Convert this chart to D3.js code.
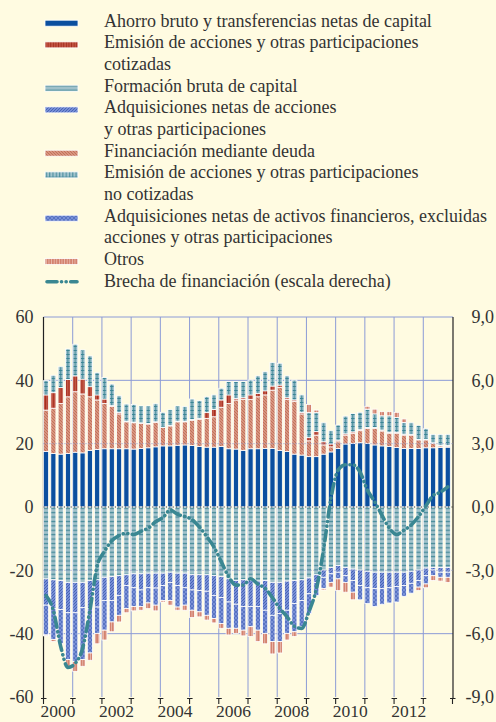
<!DOCTYPE html>
<html>
<head>
<meta charset="utf-8">
<script src="https://cdn.jsdelivr.net/npm/d3@7"></script>
<style>
  html, body { margin: 0; padding: 0; background: #fffbe1; }
  svg { display: block; }
</style>
</head>
<body>
<svg id="chart" width="496" height="722"></svg>
<script>
// ---- data (% of gross value added, quarterly, 2000 T1 – 2013 T4) ----
const years = [2000, 2001, 2002, 2003, 2004, 2005, 2006, 2007, 2008, 2009, 2010, 2011, 2012, 2013];
const quarterNames = ["T1", "T2", "T3", "T4"];
const yearLabels = [2000, 2002, 2004, 2006, 2008, 2010, 2012];
const leftTicks = [-60, -40, -20, 0, 20, 40, 60];
const rightTicks = [-9, -6, -3, 0, 3, 6, 9];

// sources (positive)
const ahorro = [17.5,16.9,16.7,16.9,17.3,17.1,17.9,18.2,18.4,18.4,18.4,18.4,18.3,18.5,18.7,19.0,
                19.3,19.3,19.5,19.6,19.4,19.1,18.9,18.9,19.1,18.4,18.3,17.9,18.4,18.4,18.5,18.5,
                17.9,17.5,16.7,16.4,15.9,15.9,16.7,17.4,18.5,19.9,20.1,20.3,20.1,19.6,19.3,19.1,
                18.8,18.5,18.5,18.5,18.7,18.7,18.8,18.9];
const deuda = [13.1,14.3,16.0,17.9,19.1,18.6,16.9,15.6,14.3,13.3,11.0,8.5,8.3,7.9,7.5,7.7,
               5.8,6.3,7.4,7.3,7.9,8.6,9.1,9.6,12.4,14.3,15.5,16.1,15.6,16.4,16.9,18.4,
               19.9,16.5,16.6,13.0,5.0,6.8,2.9,1.6,2.1,2.8,3.2,3.8,4.7,5.2,4.7,4.2,
               4.5,4.2,4.2,2.7,2.5,1.4,0.5,0.3];
const cotizadas = [4.8,4.9,5.0,5.5,5.0,4.7,3.2,1.6,1.4,0.3,0.4,0.2,0.2,0.2,0.2,0.2,
                   0.1,0.1,0.2,0.2,0.3,0.3,1.8,2.3,2.3,2.7,0.5,0.5,1.4,1.1,1.3,1.3,
                   0.7,0.5,0.5,0.5,1.0,1.1,1.0,0.9,0.5,0.4,0.4,0.3,0.3,0.3,0.3,0.3,
                   0.3,0.3,0.2,0.2,0.2,0.2,0.2,0.2];
const noCotizadas = [4.5,5.5,6.6,9.6,10.0,9.2,9.7,7.0,6.8,6.8,5.3,5.4,5.6,5.3,5.5,5.7,
                     4.7,5.0,4.8,4.6,6.5,5.6,5.0,4.6,3.7,4.2,5.3,5.1,4.7,5.5,6.0,7.4,
                     6.9,6.9,6.3,5.5,7.9,6.0,6.0,4.2,4.8,5.6,5.8,5.5,5.8,4.3,4.5,5.2,
                     4.7,3.7,3.7,4.4,3.3,2.6,3.4,3.5];
// uses (negative)
const formacion = [-22.7,-23.0,-23.2,-23.8,-23.8,-23.8,-23.2,-23.0,-22.2,-22.0,-21.7,-21.4,-21.1,-21.1,-20.9,-20.9,
                   -20.9,-20.6,-20.9,-20.9,-21.4,-21.4,-21.4,-21.7,-22.0,-22.7,-23.2,-23.0,-23.2,-23.4,-23.2,-23.8,
                   -23.8,-23.4,-23.2,-23.0,-22.4,-21.4,-19.9,-19.1,-18.5,-19.1,-19.6,-19.9,-20.3,-20.6,-20.6,-20.6,
                   -20.6,-20.6,-20.3,-19.9,-19.3,-19.1,-19.1,-19.1];
const adqAcciones = [-8.3,-9.1,-9.2,-9.6,-9.6,-8.0,-8.9,-8.6,-7.3,-7.5,-6.2,-3.4,-4.4,-5.1,-4.6,-4.7,
                     -3.9,-3.2,-3.9,-4.6,-4.8,-5.0,-5.2,-6.2,-6.6,-7.3,-7.5,-8.4,-8.2,-8.0,-9.4,-10.4,
                     -9.8,-9.2,-7.3,-6.5,-5.0,-2.4,-2.3,-2.0,-2.1,-2.6,-3.6,-4.9,-5.2,-5.2,-5.2,-4.9,
                     -4.5,-4.2,-3.8,-3.3,-2.4,-0.8,-1.5,-1.5];
const adqActivos = [-9.4,-9.7,-10.8,-14.8,-15.4,-16.4,-14.0,-8.3,-9.4,-6.8,-6.3,-7.3,-5.9,-5.2,-4.8,-5.4,
                    -4.7,-5.7,-6.8,-5.5,-6.4,-6.7,-7.6,-7.3,-8.2,-8.3,-7.6,-7.5,-6.4,-7.5,-7.3,-8.3,
                    -8.9,-7.3,-8.9,-8.3,-6.2,-4.1,-3.5,-2.7,-2.1,-2.1,-3.7,-4.5,-5.0,-5.6,-4.9,-4.8,
                    -4.9,-3.4,-3.1,-2.1,-2.6,-1.8,-1.6,-1.6];
// both signs
const otros = [-0.3,-0.7,-0.3,-2.1,-3.1,-2.1,-2.3,-3.3,-3.1,-3.1,-2.1,-1.3,-1.4,-1.2,-1.8,-1.8,
               -0.5,-1.5,-1.0,-1.6,-2.3,-1.6,-1.5,-1.4,-1.5,-2.1,-1.6,-1.8,-3.1,-3.6,-3.3,-3.9,
               -3.6,-2.1,-1.5,-0.5,2.6,0.8,-0.5,-1.5,-3.7,-3.1,-2.4,0,0.9,1.5,1.3,1.3,
               1.6,1.1,0,-1.1,-1.2,-1.5,-1.2,-1.6];
// financing gap, right scale
const brecha = [-4.2,-4.9,-6.6,-7.6,-7.4,-6.7,-4.9,-2.8,-2.1,-1.6,-1.35,-1.25,-1.3,-1.15,-1.0,-0.7,
                -0.5,-0.15,-0.35,-0.45,-0.6,-0.95,-1.4,-1.9,-2.6,-3.3,-3.7,-3.7,-3.4,-3.65,-3.85,-4.3,
                -4.8,-5.2,-5.65,-5.75,-4.95,-3.9,-2.0,0.4,1.75,2.0,2.0,1.65,0.8,0.25,-0.4,-1.0,
                -1.3,-1.1,-0.85,-0.45,0.05,0.55,0.7,0.95];

const periods = years.flatMap(y => quarterNames.map(q => `${y} ${q}`));

// ---- layout ----
const svg = d3.select("#chart");
const W = 496, H = 722;
const plotTop = 317, plotBottom = 697, plotLeft = 43.5, plotRight = 452.5;
const font = "'Liberation Serif', 'Times New Roman', serif";
const textColor = "#333";
const gridBlue = "#8c9bd6";

const x = d3.scaleBand().domain(periods).range([plotLeft, plotRight])
  .paddingInner(0.3).paddingOuter(0.15).align(0);
const xYear = d3.scaleLinear().domain([2000, 2014]).range([plotLeft, plotRight]);
const yL = d3.scaleLinear().domain([-60, 60]).range([plotBottom, plotTop]);
const yR = d3.scaleLinear().domain([-9, 9]).range([plotBottom, plotTop]);

const loc = d3.formatLocale({decimal: ",", thousands: ".", grouping: [3], currency: ["", " €"], minus: "-"});
const fmtL = loc.format("d");
const fmtR = loc.format(".1f");

svg.append("rect").attr("width", W).attr("height", H).attr("fill", "#fffbe1");

// ---- fill patterns ----
const defs = svg.append("defs");
const step = x.step(), bw = x.bandwidth(), x0 = x(periods[0]);

function pattern(id, w, h, base, px) {
  const p = defs.append("pattern").attr("id", id)
    .attr("patternUnits", "userSpaceOnUse").attr("width", w).attr("height", h)
    .attr("x", px == null ? 0 : px);
  p.append("rect").attr("width", w).attr("height", h).attr("fill", base);
  return p;
}
// Ahorro: solid
pattern("p-ahorro", 4, 4, "#0b4f9f");
// Emisión cotizadas: red with vertical stripes
let p = pattern("p-cotizadas", 2.6, 4, "#c65a48");
p.append("rect").attr("x", 0.8).attr("width", 1.1).attr("height", 4).attr("fill", "#a52e20");
// Formación bruta: light teal with horizontal stripes
p = pattern("p-formacion", 4, 4.4, "#a2c2cb");
p.append("rect").attr("y", 1.6).attr("width", 4).attr("height", 1.3).attr("fill", "#468b99");
// Adquisiciones de acciones: blue with diagonal hatch
p = pattern("p-adqAcciones", 3, 3, "#768ed5");
p.append("path").attr("d", "M-1,4 L4,-1 M-1,1 L1,-1 M2,4 L4,2").attr("stroke", "#3855ae").attr("stroke-width", 0.75);
// Financiación deuda: salmon with back-diagonal hatch
p = pattern("p-deuda", 3, 3, "#d7957f");
p.append("path").attr("d", "M-1,-1 L4,4 M-1,2 L1,4 M2,-1 L4,1").attr("stroke", "#ba604d").attr("stroke-width", 0.7);
// Emisión no cotizadas: light teal, ladder marks centred on each bar
p = pattern("p-noCotizadas", step, 4, "#a2c3cd", x0);
p.append("rect").attr("x", bw / 2 - 0.5).attr("width", 1).attr("height", 4).attr("fill", "#3a8595");
p.append("rect").attr("x", bw / 2 - 1.7).attr("y", 2).attr("width", 3.4).attr("height", 1).attr("fill", "#3a8595");
// Adquisiciones de activos financieros: blue cross-hatch
p = pattern("p-adqActivos", 4, 4, "#7a91d6");
p.append("path").attr("d", "M0,0 L4,4 M4,0 L0,4").attr("stroke", "#4563b8").attr("stroke-width", 0.65);
// Otros: salmon with thin white verticals
p = pattern("p-otros", 2.6, 4, "#d3826f");
p.append("rect").attr("x", 1.8).attr("width", 0.6).attr("height", 4).attr("fill", "#f4d2c8");
// legend swatch variant of the unlisted-shares fill (ticks spread along the swatch)
p = pattern("p-noCotizadasLeg", 3.3, 6, "#a2c3cd", 45);
p.append("rect").attr("x", 1).attr("width", 0.9).attr("height", 6).attr("fill", "#3a8595");
p.append("rect").attr("y", 2.7).attr("width", 3.3).attr("height", 0.9).attr("fill", "#3a8595");

// ---- gridlines and axis lines (behind bars) ----
const grid = svg.append("g");
[60, 40, -40].forEach(v => {
  grid.append("line").attr("x1", plotLeft).attr("x2", plotRight + 0.5)
    .attr("y1", yL(v)).attr("y2", yL(v)).attr("stroke", gridBlue).attr("stroke-width", 1);
});
d3.range(2001, 2014).forEach(yr => {
  grid.append("line").attr("x1", xYear(yr)).attr("x2", xYear(yr))
    .attr("y1", plotTop).attr("y2", plotBottom).attr("stroke", gridBlue).attr("stroke-width", 1);
});
[plotLeft, plotRight + 0.5].forEach(xx => {
  grid.append("line").attr("x1", xx).attr("x2", xx).attr("y1", plotTop).attr("y2", plotBottom + 1)
    .attr("stroke", "#222").attr("stroke-width", 1.2);
});

// ---- stacked bars ----
const rows = periods.map((per, i) => ({
  period: per, ahorro: ahorro[i], formacion: formacion[i], deuda: deuda[i],
  adqAcciones: adqAcciones[i], cotizadas: cotizadas[i], adqActivos: adqActivos[i],
  noCotizadas: noCotizadas[i], otros: otros[i]
}));
const keys = ["ahorro", "formacion", "deuda", "adqAcciones", "cotizadas", "adqActivos", "noCotizadas", "otros"];
const series = d3.stack().keys(keys).offset(d3.stackOffsetDiverging)(rows);

svg.append("g").selectAll("g").data(series).join("g")
  .attr("fill", s => `url(#p-${s.key})`)
  .selectAll("rect").data(s => s.filter(d => d[1] !== d[0])).join("rect")
  .attr("x", d => x(d.data.period))
  .attr("width", bw)
  .attr("y", d => yL(Math.max(d[0], d[1])))
  .attr("height", d => Math.abs(yL(d[0]) - yL(d[1])))
  .attr("stroke", "#ffffff").attr("stroke-width", 0.8);

// ---- dotted reference lines over bars ----
[20, -20].forEach(v => {
  svg.append("line").attr("x1", plotLeft).attr("x2", plotRight)
    .attr("y1", yL(v)).attr("y2", yL(v))
    .attr("stroke", "#8f98c8").attr("stroke-width", 1).attr("stroke-dasharray", "1,2");
});
svg.append("line").attr("x1", plotLeft).attr("x2", plotRight)
  .attr("y1", yL(0)).attr("y2", yL(0))
  .attr("stroke", "#222").attr("stroke-width", 1).attr("stroke-dasharray", "1,2.4");

// ---- financing gap line (right scale) ----
const gapDash = "10,4.5,0.1,4.5,0.1,4.5";
const gapColor = "#3a8792";
svg.append("path")
  .datum(brecha)
  .attr("fill", "none").attr("stroke", gapColor).attr("stroke-width", 3.6)
  .attr("stroke-linecap", "round").attr("stroke-linejoin", "round")
  .attr("stroke-dasharray", gapDash)
  .attr("d", d3.line()
    .x((d, i) => x(periods[i]) + bw / 2)
    .y(d => yR(d))
    .curve(d3.curveMonotoneX));

// ---- axes ----
svg.append("g").selectAll("text").data(leftTicks).join("text")
  .attr("x", 33.5).attr("y", d => yL(d)).attr("dy", "0.35em")
  .attr("text-anchor", "end").text(d => fmtL(d))
  .attr("font-family", font).attr("font-size", 18).attr("fill", textColor);

svg.append("g").selectAll("text").data(rightTicks).join("text")
  .attr("x", 494).attr("y", d => yR(d)).attr("dy", "0.35em")
  .attr("text-anchor", "end").text(d => fmtR(d))
  .attr("font-family", font).attr("font-size", 18).attr("fill", textColor);

// bottom year ticks
const gB = svg.append("g");
gB.selectAll("path").data(d3.range(2000, 2015)).join("path")
  .attr("d", yr => `M${xYear(yr) - 2.5},${plotBottom + 1.5}H${xYear(yr) + 3}M${xYear(yr)},${plotBottom + 1.5}V${plotBottom + 7}`)
  .attr("stroke", "#222").attr("stroke-width", 1.1).attr("fill", "none");
gB.selectAll("text").data(yearLabels).join("text")
  .attr("x", yr => xYear(yr + 0.5)).attr("y", 717)
  .attr("text-anchor", "middle").text(yr => yr)
  .attr("font-family", font).attr("font-size", 17.5).attr("fill", textColor);

// ---- legend ----
const legendItems = [
  { key: "ahorro", lines: ["Ahorro bruto y transferencias netas de capital"] },
  { key: "cotizadas", lines: ["Emisión de acciones y otras participaciones", "cotizadas"] },
  { key: "formacion", lines: ["Formación bruta de capital"] },
  { key: "adqAcciones", lines: ["Adquisiciones netas de acciones", "y otras participaciones"] },
  { key: "deuda", lines: ["Financiación mediante deuda"] },
  { key: "noCotizadas", lines: ["Emisión de acciones y otras participaciones", "no cotizadas"] },
  { key: "adqActivos", lines: ["Adquisiciones netas de activos financieros, excluidas", "acciones y otras participaciones"] },
  { key: "otros", lines: ["Otros"] },
  { key: "brecha", lines: ["Brecha de financiación (escala derecha)"] }
];
const lineH = 21.67;
let lineNo = 0;
const gLeg = svg.append("g");
legendItems.forEach(item => {
  const base = 26.7 + lineNo * lineH;
  if (item.key === "brecha") {
    gLeg.append("line").attr("x1", 47).attr("x2", 77).attr("y1", base - 5).attr("y2", base - 5)
      .attr("stroke", gapColor).attr("stroke-width", 3.6).attr("stroke-linecap", "round")
      .attr("stroke-dasharray", gapDash);
  } else {
    const pid = item.key === "noCotizadas" ? "p-noCotizadasLeg" : `p-${item.key}`;
    gLeg.append("rect").attr("x", 45).attr("y", base - 6.5).attr("width", 33).attr("height", 6)
      .attr("fill", `url(#${pid})`).attr("stroke", "#fff").attr("stroke-width", 0.8);
  }
  item.lines.forEach((ln, j) => {
    gLeg.append("text").attr("x", 104).attr("y", base + j * lineH).text(ln)
      .attr("font-family", font).attr("font-size", 18).attr("fill", textColor);
  });
  lineNo += item.lines.length;
});
</script>
</body>
</html>
